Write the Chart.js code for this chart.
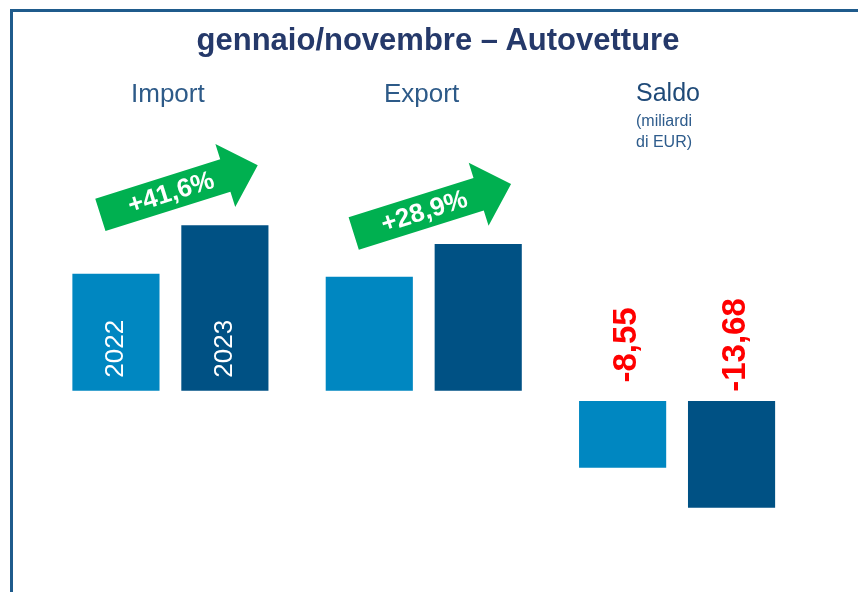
<!DOCTYPE html>
<html>
<head>
<meta charset="utf-8">
<script src="https://cdn.jsdelivr.net/npm/chart.js@4.4.1/dist/chart.umd.min.js"></script>
<style>
  body { margin: 0; background: #fff; }
  #wrap { position: relative; width: 858px; height: 592px; overflow: hidden; font-family: "Liberation Sans", Arial, sans-serif; }
  #chart { position: absolute; left: 0; top: 0; }
  .frame-top { position: absolute; left: 10px; top: 9px; width: 848px; height: 3px; background: #1f5b8c; }
  .frame-left { position: absolute; left: 10px; top: 9px; width: 3px; height: 583px; background: #1f5b8c; }
  .txt { position: absolute; white-space: nowrap; }
  #title { left: 0; width: 876px; top: 24px; text-align: center; font-size: 31px; font-weight: bold; color: #25396a; line-height: 31px; }
  .cat { font-size: 26px; line-height: 26px; color: #2d5a88; }
  #note { left: 636px; top: 110px; font-size: 16px; line-height: 21px; color: #2e5c8c; }
</style>
</head>
<body>
<div id="wrap">
  <canvas id="chart" width="858" height="592"></canvas>
  <div class="frame-top"></div>
  <div class="frame-left"></div>
  <div class="txt" id="title">gennaio/novembre – Autovetture</div>
  <div class="txt cat" style="left:131px; top:80px;">Import</div>
  <div class="txt cat" style="left:384px; top:80px;">Export</div>
  <div class="txt cat" style="left:636px; top:79px; font-size:25px; color:#1f4a78;">Saldo</div>
  <div class="txt" id="note">(miliardi<br>di EUR)</div>
</div>
<script>
// valori (miliardi di EUR, stimati dal grafico)
const categories = ['Import', 'Export', 'Saldo'];
const years = ['2022', '2023'];
const flows2022 = [15.0, 14.6, null];
const flows2023 = [21.2, 18.8, null];
const saldo2022 = [null, null, -8.55];
const saldo2023 = [null, null, -13.68];
const growthLabels = ['+41,6%', '+28,9%'];
const saldoLabels = ['-8,55', '-13,68'];

const light = '#0087c1';
const dark = '#005184';

const labelsPlugin = {
    id: 'labelsPlugin',
    afterDatasetsDraw(chart) {
        const { ctx } = chart;
        const m22 = chart.getDatasetMeta(0);
        const m23 = chart.getDatasetMeta(1);

        // year labels inside the Import bars
        [m22, m23].forEach((meta, i) => {
            const bar = meta.data[0];
            ctx.save();
            ctx.translate(bar.x + 7, bar.base - 13);
            ctx.rotate(-Math.PI / 2);
            ctx.font = '26px "Liberation Sans", Arial';
            ctx.fillStyle = '#fff';
            ctx.textAlign = 'left';
            ctx.textBaseline = 'alphabetic';
            ctx.fillText(years[i], 0, 0);
            ctx.restore();
        });

        // green growth arrows
        growthLabels.forEach((txt, i) => {
            const b1 = m22.data[i];
            const b2 = m23.data[i];
            const sx = b1.x - b1.width / 2 + 28;
            const sy = b2.y - 10.5;
            const ang = -17.5 * Math.PI / 180;
            const lb = 131, lh = 34, hb = 17, hh = 33;
            ctx.save();
            ctx.translate(sx, sy);
            ctx.rotate(ang);
            ctx.beginPath();
            ctx.moveTo(0, -hb);
            ctx.lineTo(lb, -hb);
            ctx.lineTo(lb, -hh);
            ctx.lineTo(lb + lh, 0);
            ctx.lineTo(lb, hh);
            ctx.lineTo(lb, hb);
            ctx.lineTo(0, hb);
            ctx.closePath();
            ctx.fillStyle = '#00b050';
            ctx.fill();
            ctx.font = 'bold 26px "Liberation Sans", Arial';
            ctx.fillStyle = '#fff';
            ctx.textAlign = 'center';
            ctx.textBaseline = 'middle';
            ctx.fillText(txt, 74, 1);
            ctx.restore();
        });

        // saldo values above the negative bars
        const y2 = chart.scales.y2;
        [2, 3].forEach((d, i) => {
            const bar = chart.getDatasetMeta(d).data[2];
            ctx.save();
            ctx.translate(bar.x + 13, y2.getPixelForValue(0) - 56);
            ctx.rotate(-Math.PI / 2);
            ctx.font = 'bold 33px "Liberation Sans", Arial';
            ctx.fillStyle = '#ff0000';
            ctx.textAlign = 'center';
            ctx.textBaseline = 'alphabetic';
            ctx.fillText(saldoLabels[i], 0, 0);
            ctx.restore();
        });
    }
};

const ctx = document.getElementById('chart').getContext('2d');
new Chart(ctx, {
    type: 'bar',
    data: {
        labels: categories,
        datasets: [
            { label: '2022', data: flows2022, backgroundColor: light, yAxisID: 'y', skipNull: true },
            { label: '2023', data: flows2023, backgroundColor: dark, yAxisID: 'y', skipNull: true },
            { label: 'Saldo 2022', data: saldo2022, backgroundColor: light, yAxisID: 'y2', skipNull: true },
            { label: 'Saldo 2023', data: saldo2023, backgroundColor: dark, yAxisID: 'y2', skipNull: true }
        ]
    },
    options: {
        responsive: false,
        animation: false,
        layout: { padding: { left: 43.75, right: 54.25, top: 100, bottom: 24 } },
        datasets: { bar: { categoryPercentage: 0.86, barPercentage: 0.8, borderWidth: 0 } },
        plugins: {
            legend: { display: false },
            tooltip: { enabled: false }
        },
        scales: {
            x: { display: false },
            y: { display: false, min: -22.73, max: 37.27 },
            y2: { display: false, min: -21.41, max: 38.59 }
        }
    },
    plugins: [labelsPlugin]
});
</script>
</body>
</html>
